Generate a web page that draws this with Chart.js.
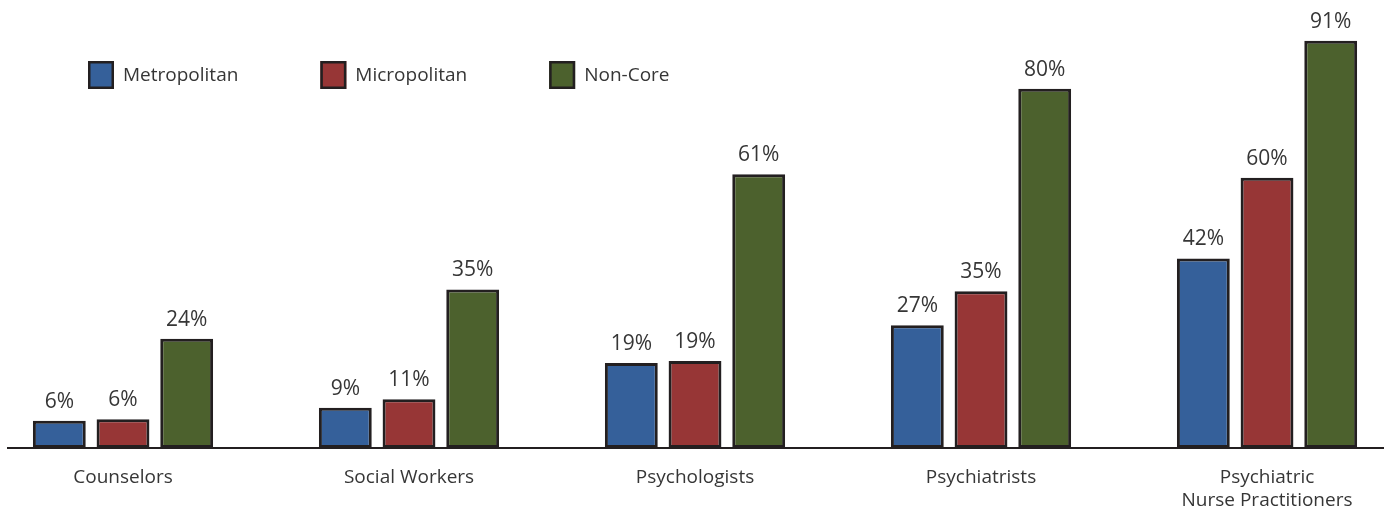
<!DOCTYPE html>
<html>
<head>
<meta charset="utf-8">
<script src="https://cdn.jsdelivr.net/npm/chart.js@4"></script>
<style>
  html, body { margin: 0; padding: 0; background: #ffffff; }
  #wrap { position: relative; width: 1384px; height: 510px; }
</style>
</head>
<body>
<div id="wrap"><canvas id="c" width="1384" height="510"></canvas></div>
<script>
const categories = ["Counselors", "Social Workers", "Psychologists", "Psychiatrists", ["Psychiatric", "Nurse Practitioners"]];
const seriesNames = ["Metropolitan", "Micropolitan", "Non-Core"];
const metropolitan = [6.1, 9.0, 19.0, 27.4, 42.3];
const micropolitan = [6.4, 10.9, 19.4, 35.0, 60.3];
const nonCore = [24.4, 35.4, 61.1, 80.2, 90.9];
const seriesColors = ["#35609a", "#973636", "#4c612d"];

const FONT = "'Open Sans', 'Noto Sans', sans-serif";
const TEXT = "#363636";
const EDGE = "#231f20";

function toPoints(arr) { return arr.map((v, i) => ({ x: i, y: v })); }

const valueLabels = {
  id: 'valueLabels',
  afterDatasetsDraw(chart) {
    const ctx = chart.ctx;
    ctx.save();
    ctx.font = "21px " + FONT;
    ctx.fillStyle = TEXT;
    ctx.textAlign = 'center';
    ctx.textBaseline = 'alphabetic';
    chart.data.datasets.forEach((ds, di) => {
      const meta = chart.getDatasetMeta(di);
      meta.data.forEach((bar, i) => {
        const v = ds.data[i].y;
        ctx.fillText(Math.round(v) + '%', bar.x, bar.y - 13);
      });
    });
    ctx.restore();
  }
};

const topLegend = {
  id: 'topLegend',
  afterDraw(chart) {
    const ctx = chart.ctx;
    ctx.save();
    ctx.font = "19px " + FONT;
    ctx.textBaseline = 'middle';
    ctx.textAlign = 'left';
    let x = 88;
    const yc = 75, bw = 26, bh = 28;
    chart.data.datasets.forEach((ds) => {
      ctx.fillStyle = ds.backgroundColor;
      ctx.fillRect(x, yc - bh / 2, bw, bh);
      ctx.strokeStyle = EDGE;
      ctx.lineWidth = 2.5;
      ctx.strokeRect(x + 1.25, yc - bh / 2 + 1.25, bw - 2.5, bh - 2.5);
      ctx.fillStyle = TEXT;
      const tx = x + bw + 9;
      ctx.fillText(ds.label, tx, yc + 1);
      x = tx + ctx.measureText(ds.label).width + 82;
    });
    ctx.restore();
  }
};

const seriesData = [metropolitan, micropolitan, nonCore];

new Chart(document.getElementById('c'), {
  type: 'bar',
  data: {
    datasets: seriesNames.map((name, k) => ({
      label: name,
      data: toPoints(seriesData[k]),
      backgroundColor: seriesColors[k],
      borderColor: EDGE,
      borderWidth: 3,
      borderSkipped: false,
      categoryPercentage: 0.668,
      barPercentage: 0.83,
      clip: false
    }))
  },
  options: {
    responsive: false,
    animation: false,
    layout: { padding: { left: 8, right: 0, top: 0, bottom: 0 } },
    plugins: { legend: { display: false }, tooltip: { enabled: false } },
    scales: {
      x: {
        type: 'linear',
        offset: false,
        min: -0.4021,
        max: 4.409,
        afterFit(s) { s.height = 62; },
        grid: { display: false, drawTicks: false },
        border: { display: true, color: EDGE, width: 2 },
        ticks: {
          stepSize: 1,
          includeBounds: false,
          autoSkip: false,
          maxRotation: 0,
          padding: 18,
          color: TEXT,
          font: { family: FONT, size: 19, lineHeight: 1.2 },
          callback(v) { return Number.isInteger(v) ? categories[v] : ''; }
        }
      },
      y: {
        display: false,
        min: 0,
        max: 100
      }
    }
  },
  plugins: [valueLabels, topLegend]
});
</script>
</body>
</html>
